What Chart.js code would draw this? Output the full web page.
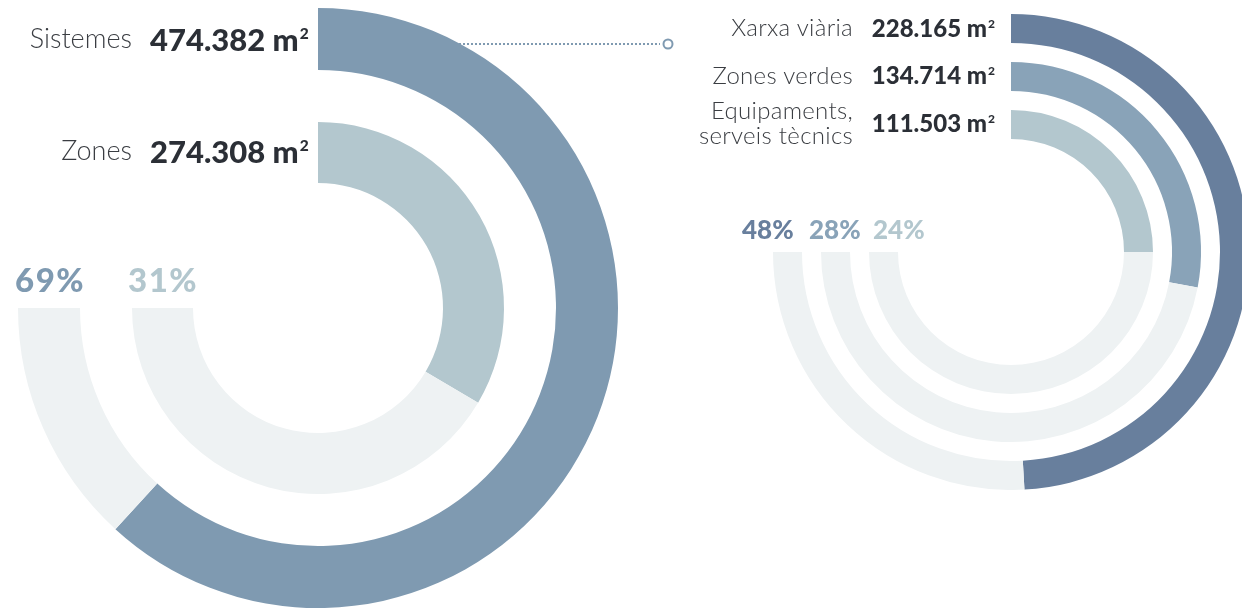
<!DOCTYPE html>
<html>
<head>
<meta charset="utf-8">
<script src="https://cdn.jsdelivr.net/npm/chart.js@4/dist/chart.umd.min.js"></script>
<style>
  html, body { margin: 0; padding: 0; background: #ffffff; }
  body { width: 1242px; height: 609px; position: relative; overflow: hidden; font-family: Lato, "Open Sans", sans-serif; }
  .box { position: absolute; }
  .txt { position: absolute; white-space: nowrap; }
  .lbl { color: #3a3d42; font-weight: 300; text-align: right; }
  .num { color: #2b2f36; font-weight: 900; }
  .num sup { font-size: 0.5em; vertical-align: 0; position: relative; top: -0.75em; margin-left: 1px; }
  .pct { font-weight: 900; }
</style>
</head>
<body>
<svg class="box" style="left:0;top:0" width="1242" height="609">
  <line x1="455" y1="44" x2="660" y2="44" stroke="#7f9ab1" stroke-width="2" stroke-dasharray="2 2"/>
  <circle cx="668" cy="44" r="4.5" fill="#fff" stroke="#7f9ab1" stroke-width="2"/>
</svg>
<div class="box" id="leftBox" style="left:18px;top:8px;width:600px;height:600px;"><canvas id="left"></canvas></div>
<div class="box" id="rightBox" style="left:773px;top:14px;width:476px;height:476px;"><canvas id="right"></canvas></div>
<div id="texts"></div>
<script>
// ---- data ----
const leftLabels = ['Sistemes', 'Zones'];
const leftAreas = ['474.382', '274.308'];
const leftPercents = [69, 31];
const leftArcShare = [61.8, 33.5];      // filled arc, % of full circle
const leftColors = ['#7f9ab1', '#b3c7ce'];

const rightLabels = ['Xarxa viària', 'Zones verdes', 'Equipaments,\nserveis tècnics'];
const rightAreas = ['228.165', '134.714', '111.503'];
const rightPercents = [48, 28, 24];
const rightArcShare = [49.1, 28, 25];
const rightColors = ['#687f9d', '#89a3b8', '#b3c7ce'];

const trackShare = 75;      // grey track covers three quarters of the circle
const trackColor = '#eef2f3';

// ---- build charts ----
function ringSets(shares, colors, ringW, gapW) {
  const sets = [];
  shares.forEach((s, i) => {
    if (i > 0) sets.push({ data: [1], backgroundColor: ['rgba(0,0,0,0)'], weight: gapW, borderWidth: 0 });
    sets.push({
      data: [s, trackShare - s, 100 - trackShare],
      backgroundColor: [colors[i], trackColor, 'rgba(0,0,0,0)'],
      weight: ringW[i], borderWidth: 0
    });
  });
  return sets;
}
function makeChart(id, sets, cutout) {
  return new Chart(document.getElementById(id), {
    type: 'doughnut',
    data: { datasets: sets },
    options: {
      responsive: true, maintainAspectRatio: false, animation: false,
      cutout: cutout, rotation: 0, circumference: 360,
      layout: { padding: 0 },
      plugins: { legend: { display: false }, tooltip: { enabled: false } },
      events: []
    }
  });
}
makeChart('left', ringSets(leftArcShare, leftColors, [62, 61], 52), (125 / 300 * 100) + '%');
makeChart('right', ringSets(rightArcShare, rightColors, [29, 29, 29], 19), (113 / 238 * 100) + '%');

// ---- texts ----
const T = document.getElementById('texts');
function addText(html, cls, style) {
  const d = document.createElement('div');
  d.className = 'txt ' + cls;
  d.innerHTML = html;
  Object.assign(d.style, style);
  T.appendChild(d);
}
// Lato baseline offset with line-height = 1 : top = baseline - 0.887*fs
function topFor(base, fs) { return (base - 0.887 * fs) + 'px'; }

const leftLay = [{ lb: 48, nb: 51 }, { lb: 160, nb: 163 }];
leftLabels.forEach((l, i) => {
  addText(l, 'lbl', { right: (1242 - 132) + 'px', top: topFor(leftLay[i].lb, 27), fontSize: '27px', lineHeight: '27px' });
  addText(leftAreas[i] + ' m<sup>2</sup>', 'num', { left: '150px', top: topFor(leftLay[i].nb, 31), fontSize: '31px', lineHeight: '31px' });
});
const leftPctX = [15, 128];
leftPercents.forEach((p, i) => {
  addText(p + '%', 'pct', { left: leftPctX[i] + 'px', top: topFor(292, 33), fontSize: '33px', lineHeight: '33px', letterSpacing: '1.5px', color: leftColors[i] });
});

const rightLay = [{ lb: [36], nb: 37 }, { lb: [84], nb: 84 }, { lb: [119, 144], nb: 132 }];
rightLabels.forEach((l, i) => {
  l.split('\n').forEach((line, k) => {
    addText(line, 'lbl', { right: (1242 - 853) + 'px', top: topFor(rightLay[i].lb[k], 24), fontSize: '24px', lineHeight: '24px', letterSpacing: '0.3px' });
  });
  addText(rightAreas[i] + ' m<sup>2</sup>', 'num', { right: (1242 - 995) + 'px', top: topFor(rightLay[i].nb, 24), fontSize: '24px', lineHeight: '24px' });
});
const rightPctX = [742, 809, 873];
rightPercents.forEach((p, i) => {
  addText(p + '%', 'pct', { left: rightPctX[i] + 'px', top: topFor(239, 26), fontSize: '26px', lineHeight: '26px', color: rightColors[i] });
});
</script>
</body>
</html>
